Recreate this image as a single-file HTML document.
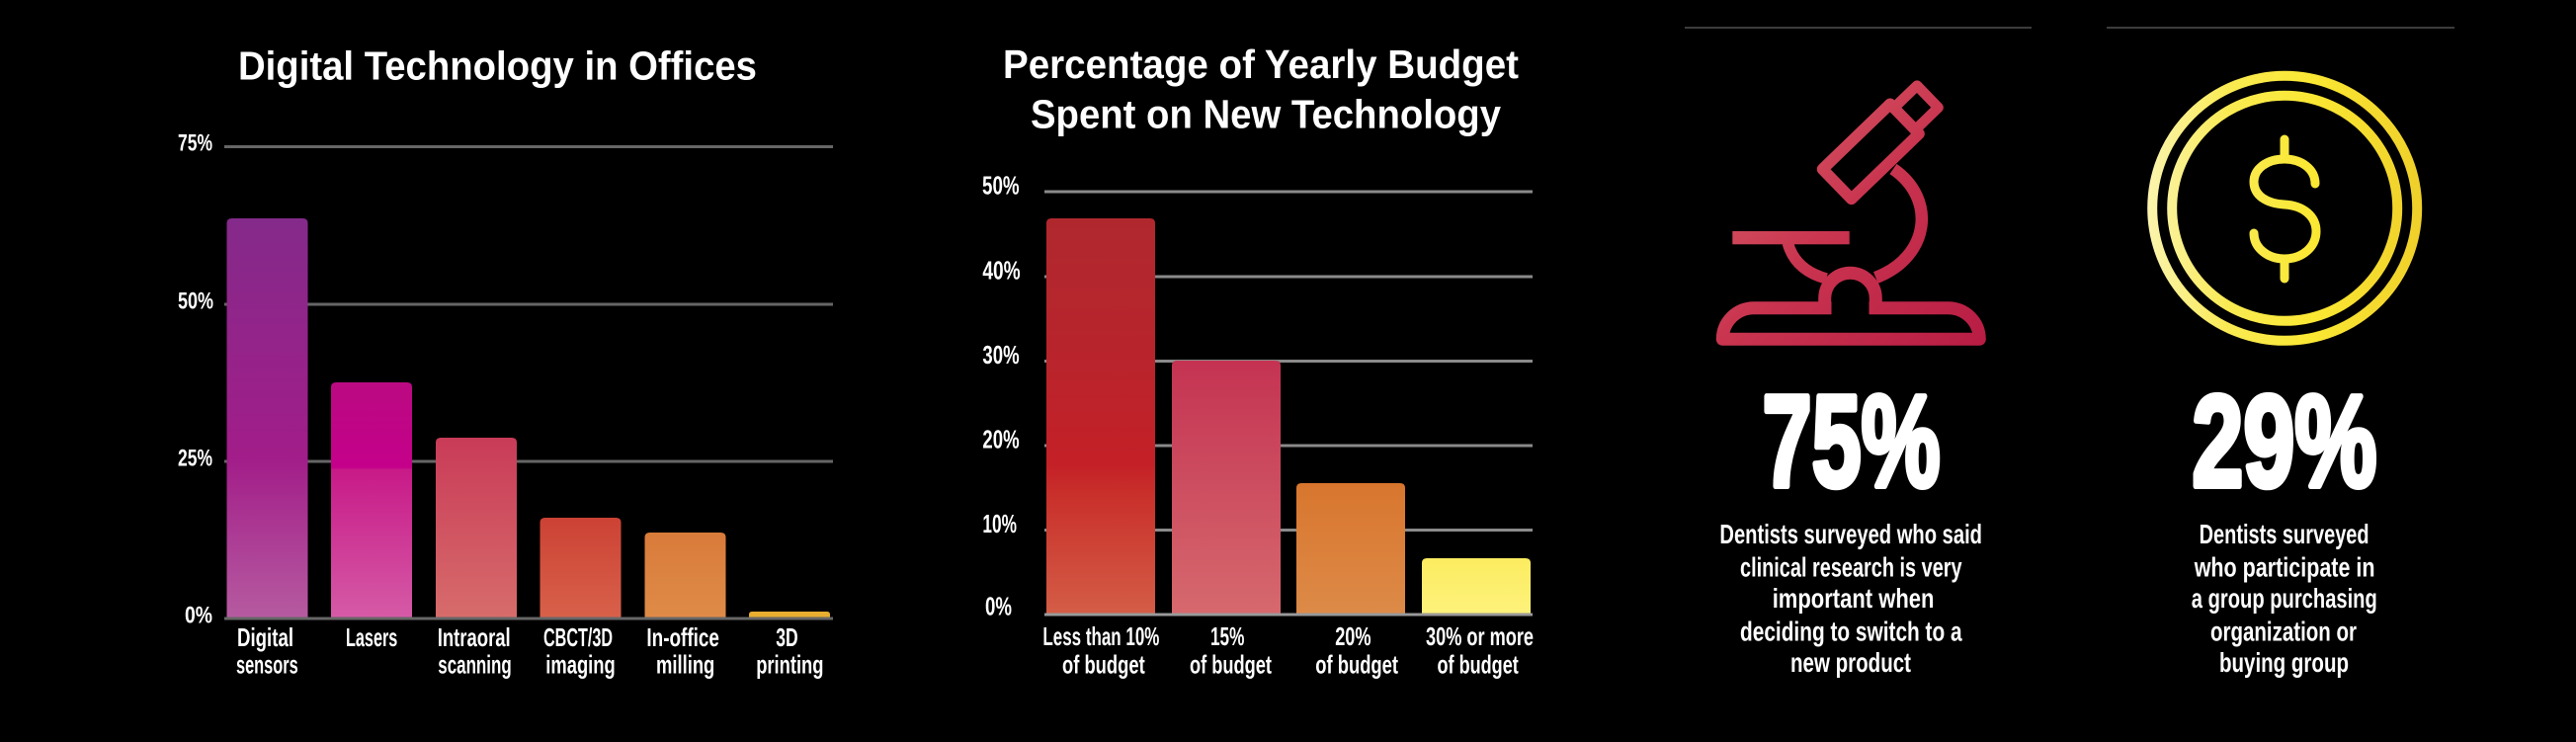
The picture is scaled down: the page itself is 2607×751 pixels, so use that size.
<!DOCTYPE html>
<html>
<head>
<meta charset="utf-8">
<style>
  html, body { margin:0; padding:0; background:#000; }
  svg { display:block; }
  text { font-family:"Liberation Sans", Arial, sans-serif; font-weight:bold; fill:#fff; }
</style>
</head>
<body>
<svg width="2607" height="751" viewBox="0 0 2607 751" xmlns="http://www.w3.org/2000/svg">
  <defs>
    <linearGradient id="b1" x1="0" y1="0" x2="0" y2="1">
      <stop offset="0" stop-color="#842a8a"/>
      <stop offset="0.6" stop-color="#a21d89"/>
      <stop offset="1" stop-color="#b65ba0"/>
    </linearGradient>
    <linearGradient id="b2" x1="0" y1="0" x2="0" y2="1">
      <stop offset="0" stop-color="#bb0a82"/>
      <stop offset="0.36" stop-color="#c4008a"/>
      <stop offset="0.37" stop-color="#c81a88"/>
      <stop offset="1" stop-color="#d55ba6"/>
    </linearGradient>
    <linearGradient id="b3" x1="0" y1="0" x2="0" y2="1">
      <stop offset="0" stop-color="#c93b58"/>
      <stop offset="1" stop-color="#d76c6b"/>
    </linearGradient>
    <linearGradient id="b4" x1="0" y1="0" x2="0" y2="1">
      <stop offset="0" stop-color="#cc4234"/>
      <stop offset="1" stop-color="#d8614a"/>
    </linearGradient>
    <linearGradient id="b5" x1="0" y1="0" x2="0" y2="1">
      <stop offset="0" stop-color="#d97b3a"/>
      <stop offset="1" stop-color="#df8b48"/>
    </linearGradient>
    <linearGradient id="c1" x1="0" y1="0" x2="0" y2="1">
      <stop offset="0" stop-color="#b0282e"/>
      <stop offset="0.35" stop-color="#b9242c"/>
      <stop offset="0.62" stop-color="#c42027"/>
      <stop offset="0.7" stop-color="#c9302b"/>
      <stop offset="1" stop-color="#d45d46"/>
    </linearGradient>
    <linearGradient id="c2" x1="0" y1="0" x2="0" y2="1">
      <stop offset="0" stop-color="#c43352"/>
      <stop offset="1" stop-color="#d6696e"/>
    </linearGradient>
    <linearGradient id="c3" x1="0" y1="0" x2="0" y2="1">
      <stop offset="0" stop-color="#d8762e"/>
      <stop offset="1" stop-color="#dd8a48"/>
    </linearGradient>
    <linearGradient id="c4" x1="0" y1="0" x2="0" y2="1">
      <stop offset="0" stop-color="#fcec60"/>
      <stop offset="1" stop-color="#fdf27c"/>
    </linearGradient>
    <linearGradient id="mg" gradientUnits="userSpaceOnUse" x1="1740" y1="80" x2="2010" y2="350">
      <stop offset="0" stop-color="#d9686d"/>
      <stop offset="0.5" stop-color="#c9344f"/>
      <stop offset="1" stop-color="#b81c44"/>
    </linearGradient>
    <linearGradient id="yg" gradientUnits="userSpaceOnUse" x1="2172" y1="0" x2="2452" y2="0">
      <stop offset="0" stop-color="#fbf4b0"/>
      <stop offset="0.3" stop-color="#f9ea52"/>
      <stop offset="0.6" stop-color="#fbe833"/>
      <stop offset="1" stop-color="#efcf2a"/>
    </linearGradient>
  </defs>

  <rect x="0" y="0" width="2607" height="751" fill="#000"/>

  <!-- ============ CHART 1 ============ -->
  <text x="241" y="80.5" font-size="41" textLength="525" lengthAdjust="spacingAndGlyphs">Digital Technology in Offices</text>

  <g stroke="#666" stroke-width="3">
    <line x1="227" y1="148.5" x2="843" y2="148.5"/>
    <line x1="227" y1="308" x2="843" y2="308"/>
    <line x1="227" y1="467" x2="843" y2="467"/>
  </g>

  <g font-size="24">
    <text x="180" y="152.5" textLength="35" lengthAdjust="spacingAndGlyphs">75%</text>
    <text x="180" y="312.5" textLength="36" lengthAdjust="spacingAndGlyphs">50%</text>
    <text x="180" y="471.5" textLength="35" lengthAdjust="spacingAndGlyphs">25%</text>
    <text x="187" y="630.5" textLength="28" lengthAdjust="spacingAndGlyphs">0%</text>
  </g>

  <path d="M229.5,626 V226 Q229.5,221 234.5,221 H306.5 Q311.5,221 311.5,226 V626 Z" fill="url(#b1)"/>
  <path d="M335,626 V392 Q335,387 340,387 H412 Q417,387 417,392 V626 Z" fill="url(#b2)"/>
  <path d="M441,626 V448 Q441,443 446,443 H518 Q523,443 523,448 V626 Z" fill="url(#b3)"/>
  <path d="M546.5,626 V529 Q546.5,524 551.5,524 H623.5 Q628.5,524 628.5,529 V626 Z" fill="url(#b4)"/>
  <path d="M652.5,626 V544 Q652.5,539 657.5,539 H729.5 Q734.5,539 734.5,544 V626 Z" fill="url(#b5)"/>
  <path d="M758,626 V622 Q758,619 761,619 H837 Q840,619 840,622 V626 Z" fill="#e8ae30"/>

  <line x1="227" y1="626" x2="843" y2="626" stroke="#666" stroke-width="3"/>

  <g font-size="26">
    <text x="240" y="654" textLength="57" lengthAdjust="spacingAndGlyphs">Digital</text>
    <text x="239" y="681.7" textLength="62.7" lengthAdjust="spacingAndGlyphs">sensors</text>
    <text x="350" y="654" textLength="52.3" lengthAdjust="spacingAndGlyphs">Lasers</text>
    <text x="442.7" y="654" textLength="74" lengthAdjust="spacingAndGlyphs">Intraoral</text>
    <text x="443.3" y="681.7" textLength="74.4" lengthAdjust="spacingAndGlyphs">scanning</text>
    <text x="550" y="654" textLength="70" lengthAdjust="spacingAndGlyphs">CBCT/3D</text>
    <text x="552.3" y="681.7" textLength="70.4" lengthAdjust="spacingAndGlyphs">imaging</text>
    <text x="654.4" y="654" textLength="73.5" lengthAdjust="spacingAndGlyphs">In-office</text>
    <text x="664" y="681.7" textLength="59.3" lengthAdjust="spacingAndGlyphs">milling</text>
    <text x="785.3" y="654" textLength="22.4" lengthAdjust="spacingAndGlyphs">3D</text>
    <text x="765.2" y="681.7" textLength="68.3" lengthAdjust="spacingAndGlyphs">printing</text>
  </g>

  <!-- ============ CHART 2 ============ -->
  <text x="1015" y="79" font-size="41" textLength="522" lengthAdjust="spacingAndGlyphs">Percentage of Yearly Budget</text>
  <text x="1043" y="129.3" font-size="41" textLength="476" lengthAdjust="spacingAndGlyphs">Spent on New Technology</text>

  <g stroke="#8a8a8a" stroke-width="3">
    <line x1="1057" y1="194" x2="1551" y2="194"/>
    <line x1="1057" y1="280" x2="1551" y2="280"/>
    <line x1="1057" y1="365.5" x2="1551" y2="365.5"/>
    <line x1="1057" y1="451" x2="1551" y2="451"/>
    <line x1="1057" y1="536.5" x2="1551" y2="536.5"/>
  </g>

  <g font-size="26">
    <text x="994" y="196.5" textLength="37.6" lengthAdjust="spacingAndGlyphs">50%</text>
    <text x="994.4" y="282.6" textLength="38.3" lengthAdjust="spacingAndGlyphs">40%</text>
    <text x="994.4" y="367.8" textLength="37.2" lengthAdjust="spacingAndGlyphs">30%</text>
    <text x="994.4" y="453.5" textLength="37.2" lengthAdjust="spacingAndGlyphs">20%</text>
    <text x="994.4" y="538.8" textLength="34.6" lengthAdjust="spacingAndGlyphs">10%</text>
    <text x="997" y="622.6" textLength="27" lengthAdjust="spacingAndGlyphs">0%</text>
  </g>

  <path d="M1059,622 V226 Q1059,221 1064,221 H1164 Q1169,221 1169,226 V622 Z" fill="url(#c1)"/>
  <path d="M1186,622 V370 Q1186,365 1191,365 H1291 Q1296,365 1296,370 V622 Z" fill="url(#c2)"/>
  <path d="M1312,622 V494 Q1312,489 1317,489 H1417 Q1422,489 1422,494 V622 Z" fill="url(#c3)"/>
  <path d="M1439,622 V570 Q1439,565 1444,565 H1544 Q1549,565 1549,570 V622 Z" fill="url(#c4)"/>

  <line x1="1057" y1="622" x2="1551" y2="622" stroke="#999" stroke-width="3"/>

  <g font-size="26">
    <text x="1055.4" y="653" textLength="118" lengthAdjust="spacingAndGlyphs">Less than 10%</text>
    <text x="1075" y="681.7" textLength="83.7" lengthAdjust="spacingAndGlyphs">of budget</text>
    <text x="1225" y="653" textLength="34.4" lengthAdjust="spacingAndGlyphs">15%</text>
    <text x="1204" y="681.7" textLength="83" lengthAdjust="spacingAndGlyphs">of budget</text>
    <text x="1351.2" y="653" textLength="36.4" lengthAdjust="spacingAndGlyphs">20%</text>
    <text x="1331.3" y="681.7" textLength="83.7" lengthAdjust="spacingAndGlyphs">of budget</text>
    <text x="1443" y="653" textLength="109" lengthAdjust="spacingAndGlyphs">30% or more</text>
    <text x="1454.5" y="681.7" textLength="82.3" lengthAdjust="spacingAndGlyphs">of budget</text>
  </g>

  <!-- ============ RIGHT PANELS ============ -->
  <line x1="1705" y1="28" x2="2056" y2="28" stroke="#3c3c3c" stroke-width="2"/>
  <line x1="2132" y1="28" x2="2484" y2="28" stroke="#3c3c3c" stroke-width="2"/>

  <!-- Microscope -->
  <g fill="none" stroke="url(#mg)" stroke-linejoin="round">
    <path d="M1844.5,171.2 L1912.9,105.2 L1942.1,135.4 L1873.7,201.4 Z" stroke-width="11.5"/>
    <path d="M1916.7,109.2 L1940.1,86.6 L1961.6,108.9 L1938.2,131.5 Z" stroke-width="10.5"/>
    <path d="M1916,171 C1960,201 1953.3,260 1898.3,281" stroke-width="12.5"/>
    <path d="M1809.3,246 Q1816.7,273.3 1848.3,282" stroke-width="11.5"/>
    <path d="M1846.7,311.7 V302 A25.8,25.8 0 0 1 1898.3,302 V311.7" stroke-width="13"/>
    <path d="M1743.3,343.3 H2003.3 A31.7,31.7 0 0 0 1971.6,311.7 H1775 A31.7,31.7 0 0 0 1743.3,343.3 Z" stroke-width="13"/>
  </g>
  <rect x="1853.5" y="300" width="38" height="18.6" fill="#000"/>
  <rect x="1753.3" y="234" width="118.4" height="13.3" fill="url(#mg)"/>

  <!-- Coin -->
  <g fill="none" stroke="url(#yg)">
    <circle cx="2312.2" cy="210.8" r="134" stroke-width="10"/>
    <circle cx="2312.2" cy="210.8" r="114" stroke-width="10"/>
    <g stroke-width="9" stroke-linecap="round">
      <path d="M2343,186 C2343,171 2329,161 2312,161 C2294,161 2281,171 2281,184 C2281,198 2294,206 2312,207 C2331,208 2344,219 2344,234 C2344,250 2330,262 2312,262 C2295,262 2281,251 2281,236"/>
      <line x1="2312" y1="141" x2="2312" y2="161"/>
      <line x1="2312" y1="262" x2="2312" y2="282"/>
    </g>
  </g>

  <!-- Big numbers -->
  <text x="1783.6" y="492" font-size="132" textLength="180" lengthAdjust="spacingAndGlyphs" stroke="#fff" stroke-width="6" stroke-linejoin="round">75%</text>
  <text x="2218.4" y="492" font-size="132" textLength="187" lengthAdjust="spacingAndGlyphs" stroke="#fff" stroke-width="6" stroke-linejoin="round">29%</text>

  <!-- Descriptions -->
  <g font-size="28">
    <text x="1740.4" y="550" textLength="265.6" lengthAdjust="spacingAndGlyphs">Dentists surveyed who said</text>
    <text x="1761" y="583.3" textLength="224.6" lengthAdjust="spacingAndGlyphs">clinical research is very</text>
    <text x="1793.7" y="615" textLength="163.8" lengthAdjust="spacingAndGlyphs">important  when</text>
    <text x="1761" y="648.3" textLength="224.6" lengthAdjust="spacingAndGlyphs">deciding to  switch to a</text>
    <text x="1812" y="680" textLength="122" lengthAdjust="spacingAndGlyphs">new product</text>

    <text x="2225.6" y="550" textLength="172" lengthAdjust="spacingAndGlyphs">Dentists surveyed</text>
    <text x="2220.7" y="583.3" textLength="182.8" lengthAdjust="spacingAndGlyphs">who  participate in</text>
    <text x="2217.8" y="615" textLength="188" lengthAdjust="spacingAndGlyphs">a group purchasing</text>
    <text x="2237" y="648.3" textLength="148" lengthAdjust="spacingAndGlyphs">organization or</text>
    <text x="2246" y="680" textLength="131" lengthAdjust="spacingAndGlyphs">buying group</text>
  </g>
</svg>
</body>
</html>
